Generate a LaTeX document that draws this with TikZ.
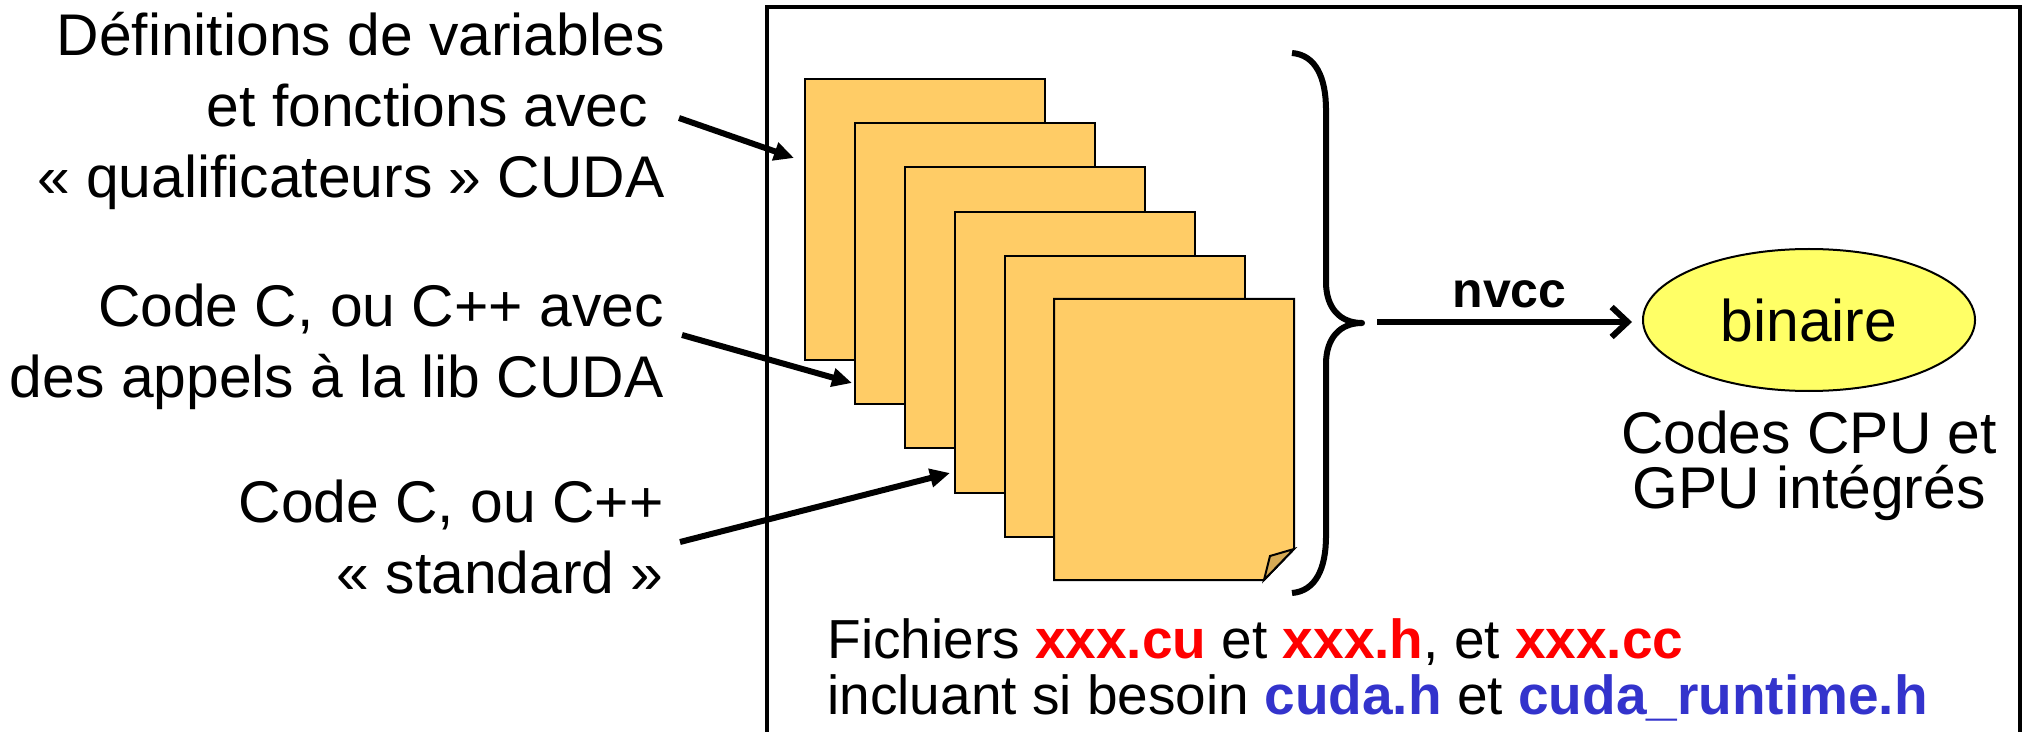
\documentclass[tikz,border=0pt]{standalone}
\usepackage{fontspec}
\setmainfont{Liberation Sans}
\usetikzlibrary{arrows.meta,shapes.geometric,positioning}

\definecolor{sheetfill}{HTML}{FFCC66}
\definecolor{flapfill}{HTML}{D6AA55}
\definecolor{binfill}{HTML}{FFFF66}
\definecolor{srcred}{HTML}{FF0000}
\definecolor{hdrblue}{HTML}{3333CC}

\newcommand{\bigtext}{\fontsize{29.4}{35.5}\selectfont}

\begin{document}
\begin{tikzpicture}[x=0.5pt, y=-0.5pt,
  remark/.style={align=right, anchor=base east, inner sep=0pt, font=\bigtext},
  sheet/.style={draw, line width=1pt, fill=sheetfill, minimum width=120pt,
    minimum height=140.5pt, inner sep=0pt, anchor=north west},
  pointer/.style={line width=3pt, -{Triangle[length=10pt,width=9pt]}}]
\path[use as bounding box, clip] (0,0) rectangle (2027,732);

% cadre de droite
\draw[line width=2pt] (767,7) rectangle (2020,760);

% pile de fichiers sources
\foreach \i in {1,...,5}
  \node[sheet] (p\i) at ({804+50*(\i-1)}, {78+44.2*(\i-1)}) {};
\draw[line width=1pt, fill=sheetfill] (1054,299) -- (1294,299) -- (1294,549)
  -- (1264,580) -- (1054,580) -- cycle;
\draw[line width=1pt, fill=flapfill] (1264,580) -- (1270,556) -- (1294,549) -- cycle;

% accolade
\draw[line width=3pt, line join=round] (1292,53) .. controls (1316,55) and (1326,78) .. (1326,110)
  -- (1326,282) .. controls (1326,308) and (1340,323) .. (1362,323)
  .. controls (1340,323) and (1326,338) .. (1326,364)
  -- (1326,536) .. controls (1326,568) and (1316,591) .. (1292,593);

% textes de gauche (ancre sur la derniere ligne)
\node[remark] (def) at (665,198) {Définitions de variables\\et fonctions avec\rule{0.28em}{0pt}\\« qualificateurs » CUDA};
\node[remark] (lib) at (664,397) {Code C, ou C++ avec\\des appels à la lib CUDA};
\node[remark] (std) at (664,593) {Code C, ou C++\\« standard »};

\coordinate (a1) at (679,118);
\coordinate (b1) at (794,158);
\coordinate (a2) at (682,335);
\coordinate (b2) at (852,383);
\coordinate (a3) at (680,542);
\coordinate (b3) at (950,473);
\draw[pointer] (a1) -- (b1);
\draw[pointer] (a2) -- (b2);
\draw[pointer] (a3) -- (b3);

% compilation
\node[ellipse, draw, line width=1pt, fill=binfill, minimum width=166pt,
  minimum height=71pt, inner sep=0pt, font=\bigtext] (bin) at (1809,320) {binaire};
\coordinate (tip) at (1377,322);
\draw[line width=3pt, -{Straight Barb[length=8pt,width=15pt]}, shorten >=5pt] (tip)
  -- node[above=2pt, font=\bfseries\fontsize{25}{30}\selectfont] (nvcc) {nvcc} (tip -| bin.west);
\node[align=center, anchor=base, inner sep=0pt, font=\fontsize{29.4}{27.5}\selectfont] (out)
  at (1809,508) {Codes CPU et\\GPU intégrés};

% legende du bas
\node[align=left, anchor=base west, inner sep=0pt, font=\fontsize{27.5}{28}\selectfont] (files)
  at (827,714) {Fichiers \textcolor{srcred}{\bfseries xxx.cu} et \textcolor{srcred}{\bfseries xxx.h}, et \textcolor{srcred}{\bfseries xxx.cc}\\
  incluant si besoin \textcolor{hdrblue}{\bfseries cuda.h} et \textcolor{hdrblue}{\bfseries cuda\_runtime.h}};
\end{tikzpicture}
\end{document}
